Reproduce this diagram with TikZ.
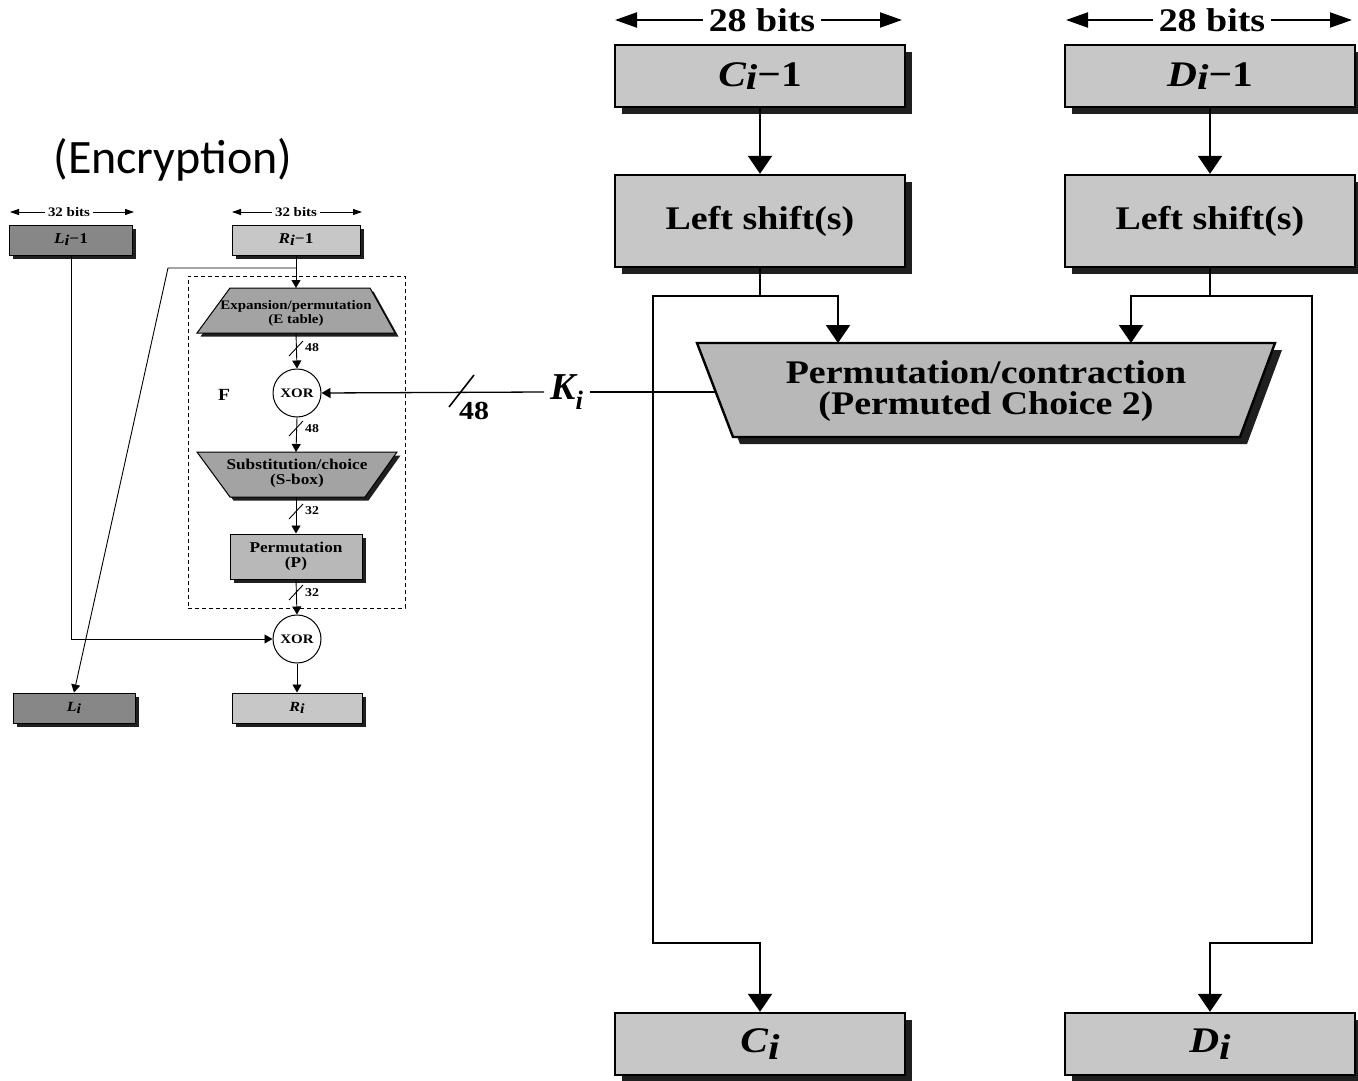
\documentclass[tikz,border=0pt]{standalone}
\usepackage{fontspec}
\setmainfont{Liberation Serif}
\newfontfamily\dfont{Liberation Serif}[FakeStretch=1.15]
\newfontfamily\cfont{Carlito}
\usetikzlibrary{arrows.meta,shadows}

\definecolor{boxlight}{gray}{0.78}
\definecolor{boxdark}{gray}{0.53}
\definecolor{trapfill}{gray}{0.64}
\definecolor{pfill}{gray}{0.72}
\definecolor{pcfill}{gray}{0.72}
\definecolor{shadowgray}{gray}{0.12}

\begin{document}
\begin{tikzpicture}[x=1pt,y=-1pt,
  bigbox/.style={draw, line width=2.4pt, fill=boxlight, minimum width=290pt,
    inner sep=0pt, font=\dfont\bfseries\fontsize{33}{33}\selectfont,
    drop shadow={shadow xshift=7pt, shadow yshift=-7pt, fill=shadowgray, opacity=1}},
  smallbox/.style={draw, line width=1pt, inner sep=0pt, minimum height=30pt,
    font=\dfont\bfseries\fontsize{15}{15}\selectfont,
    drop shadow={shadow xshift=3.5pt, shadow yshift=-3.5pt, fill=shadowgray, opacity=1}},
  xorcirc/.style={draw, circle, line width=1pt, fill=white, minimum size=48pt,
    inner sep=0pt, font=\dfont\bfseries\fontsize{13}{13}\selectfont},
  bigline/.style={line width=2pt},
  bigtip/.style={-{Triangle[width=24pt,length=18pt]}},
  dimtip/.style={line width=2pt, -{Triangle[width=15pt,length=22pt]}},
  smline/.style={line width=0.9pt},
  smtip/.style={-{Triangle[width=9pt,length=8pt]}},
  smdim/.style={line width=0.9pt, -{Triangle[width=6pt,length=9pt]}},
  bigtext/.style={font=\dfont\bfseries\fontsize{33}{31}\selectfont, align=center},
  trtext/.style={font=\dfont\bfseries\fontsize{13}{14}\selectfont, align=center, inner sep=0pt},
  sltext/.style={font=\dfont\bfseries\fontsize{12}{12}\selectfont, inner sep=1pt}
]
\useasboundingbox (0,0) rectangle (1358,1081);

% ---------------- key schedule (right) ----------------
\node[bigtext, inner sep=6pt] (c28) at (762,20) {28 bits};
\coordinate (c28l) at (615,20);
\coordinate (c28r) at (902,20);
\draw[dimtip] (c28.west) -- (c28l);
\draw[dimtip] (c28.east) -- (c28r);

\node[bigtext, inner sep=6pt] (d28) at (1212,20) {28 bits};
\coordinate (d28l) at (1066,20);
\coordinate (d28r) at (1352,20);
\draw[dimtip] (d28.west) -- (d28l);
\draw[dimtip] (d28.east) -- (d28r);

\node[bigbox, minimum height=62pt, font=\dfont\bfseries\fontsize{36}{36}\selectfont] (cprev) at (760,76)
  {\itshape C\raisebox{-3pt}{i}\upshape −1};
\node[bigbox, minimum height=62pt, font=\dfont\bfseries\fontsize{36}{36}\selectfont] (dprev) at (1210,76)
  {\itshape D\raisebox{-3pt}{i}\upshape −1};
\node[bigbox, minimum height=92pt] (cshift) at (760,221) {Left shift(s)};
\node[bigbox, minimum height=92pt] (dshift) at (1210,221) {Left shift(s)};
\node[bigbox, minimum height=62pt, font=\dfont\bfseries\fontsize{36}{36}\selectfont] (ci) at (760,1044)
  {\itshape C\raisebox{-7pt}{i}};
\node[bigbox, minimum height=62pt, font=\dfont\bfseries\fontsize{36}{36}\selectfont] (di) at (1210,1044)
  {\itshape D\raisebox{-7pt}{i}};

\draw[bigline, bigtip] (cprev.south) -- (cshift.north);
\draw[bigline, bigtip] (dprev.south) -- (dshift.north);

% Permuted Choice 2
\fill[shadowgray] (704,350) -- (1282,350) -- (1247,444) -- (740,444) -- cycle;
\draw[line width=2.4pt, fill=pcfill, line join=miter]
  (697,343) -- (1275,343) -- (1240,437) -- (733,437) -- cycle;
\node[bigtext] (pc2) at (986,391) {Permutation/contraction\\(Permuted Choice 2)};
\coordinate (pc2cin) at (838,343);
\coordinate (pc2din) at (1131,343);
\coordinate (pc2w) at (716,392);

% C and D halves pass on to the next round
\coordinate (cjoin) at (760,296);
\coordinate (cleft) at (653,296);
\coordinate (cdown) at (653,943);
\draw[bigline] (cshift.south) -- (cjoin);
\draw[bigline, bigtip] (cjoin) -| (pc2cin);
\draw[bigline, bigtip] (cjoin) -- (cleft) -- (cdown) -| (ci.north);

\coordinate (djoin) at (1210,296);
\coordinate (dright) at (1312,296);
\coordinate (ddown) at (1312,943);
\draw[bigline] (dshift.south) -- (djoin);
\draw[bigline, bigtip] (djoin) -| (pc2din);
\draw[bigline, bigtip] (djoin) -- (dright) -- (ddown) -| (di.north);

% ---------------- one round (left) ----------------
\node[font=\cfont\fontsize{48}{48}\selectfont] (enc) at (173,160) {(Encryption)};

\node[font=\dfont\bfseries\fontsize{13}{13}\selectfont, inner sep=3pt] (l32) at (69,212) {32 bits};
\coordinate (l32l) at (10,212);
\coordinate (l32r) at (134,212);
\draw[smdim] (l32.west) -- (l32l);
\draw[smdim] (l32.east) -- (l32r);
\node[font=\dfont\bfseries\fontsize{13}{13}\selectfont, inner sep=3pt] (r32) at (296,212) {32 bits};
\coordinate (r32l) at (232,212);
\coordinate (r32r) at (362,212);
\draw[smdim] (r32.west) -- (r32l);
\draw[smdim] (r32.east) -- (r32r);

\node[smallbox, fill=boxdark, minimum width=123pt] (lprev) at (71,240)
  {\itshape L\raisebox{-2pt}{i}\upshape −1};
\node[smallbox, fill=boxlight, minimum width=128pt] (rprev) at (296,240)
  {\itshape R\raisebox{-2pt}{i}\upshape −1};
\node[smallbox, fill=boxdark, minimum width=122pt, font=\dfont\bfseries\itshape\fontsize{14}{14}\selectfont] (li) at (74,708)
  {L\raisebox{-2pt}{i}};
\node[smallbox, fill=boxlight, minimum width=130pt, font=\dfont\bfseries\itshape\fontsize{14}{14}\selectfont] (ri) at (297,708)
  {R\raisebox{-2pt}{i}};

% the F function
\node[draw, dashed, line width=0.8pt, dash pattern=on 4pt off 3pt,
  minimum width=217pt, minimum height=332pt, inner sep=0pt] (fbox) at (296.5,442) {};
\node[font=\dfont\bfseries\fontsize{17}{17}\selectfont] (flabel) at (224,395) {F};

\fill[shadowgray] (233.5,291.5) -- (373.5,291.5) -- (398.5,336.5) -- (200.5,336.5) -- cycle;
\draw[line width=1pt, fill=trapfill] (230,288) -- (370,288) -- (395,333) -- (197,333) -- cycle;
\node[trtext] (etab) at (296,313) {Expansion/permutation\\(E table)};
\coordinate (etop) at (296,288);
\coordinate (ebot) at (296,333);

\node[xorcirc] (xor1) at (297,393) {XOR};

\fill[shadowgray] (200.5,455.5) -- (400.5,455.5) -- (368.5,500.5) -- (233.5,500.5) -- cycle;
\draw[line width=1pt, fill=trapfill] (197,452) -- (397,452) -- (365,497) -- (230,497) -- cycle;
\node[trtext, font=\dfont\bfseries\fontsize{15}{15}\selectfont] (sbox) at (297,473) {Substitution/choice\\(S-box)};
\coordinate (stop) at (296,452);
\coordinate (sbot) at (296,497);

\node[smallbox, fill=pfill, minimum width=132pt, minimum height=45pt, align=center,
  font=\dfont\bfseries\fontsize{15}{15}\selectfont] (pbox) at (296,556.5) {Permutation\\(P)};

\node[xorcirc] (xor2) at (297,639) {XOR};

\draw[smline, smtip] (rprev.south) -- (etop);
\draw[smline, smtip] (ebot) -- (xor1.north);
\draw[smline] (289,356) -- (303,341);
\node[sltext, anchor=west] (n48a) at (304,348) {48};
\draw[smline, smtip] (xor1.south) -- (stop);
\draw[smline] (289,436) -- (303,421);
\node[sltext, anchor=west] (n48b) at (304,429) {48};
\draw[smline, smtip] (sbot) -- (pbox.north);
\draw[smline] (289,519) -- (303,504);
\node[sltext, anchor=west] (n32a) at (304,511) {32};
\draw[smline, smtip] (pbox.south) -- (xor2.north);
\draw[smline] (289,600) -- (303,585);
\node[sltext, anchor=west] (n32b) at (304,593) {32};
\draw[smline, smtip] (xor2.south) -- (ri.north);

\coordinate (rsplit) at (296,268);
\coordinate (rbend) at (168,268);
\draw[smline, smtip] (rsplit) -- (rbend) -- (li.north);
\draw[smline, smtip] (lprev.south) |- (xor2.west);

% ---------------- round key into F ----------------
\node[font=\bfseries\itshape\fontsize{38}{38}\selectfont, inner sep=6pt] (ki) at (567,392)
  {K\textsubscript{i}};
\draw[line width=1.6pt] (pc2w) -- (ki.east);
\draw[line width=1.3pt, -{Triangle[width=10pt,length=9pt]}] (ki.west) -- (xor1.east);
\draw[line width=1.6pt] (449,407) -- (474,375);
\node[font=\dfont\bfseries\fontsize{26}{26}\selectfont] (k48) at (474,411) {48};

\end{tikzpicture}
\end{document}
